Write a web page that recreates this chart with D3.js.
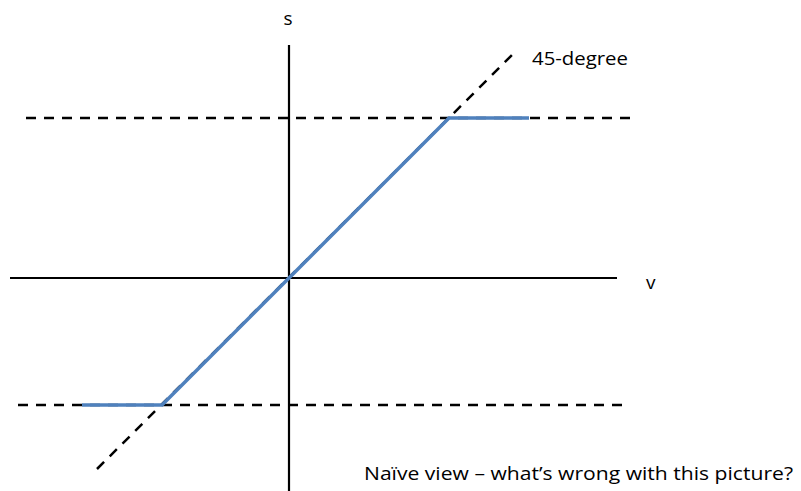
<!DOCTYPE html>
<html>
<head>
<meta charset="utf-8">
<script src="https://cdn.jsdelivr.net/npm/d3@7"></script>
<style>
  html, body { margin: 0; padding: 0; background: #fff; }
  svg { display: block; }
  text { font-family: "Open Sans", Lato, sans-serif; fill: #000; }
</style>
</head>
<body>
<svg id="chart" width="801" height="491"></svg>
<script>
// ---- data (units: origin at axis crossing) ----
const sAxis = [[0, 233], [0, -215]];            // vertical axis (s)
const vAxis = [[-279, 0], [328, 0]];            // horizontal axis (v)
const upperBound = [[-263, 160], [344, 160]];   // dashed upper limit
const lowerBound = [[-271, -127], [336, -127]]; // dashed lower limit
const diagonal = [[-192, -191], [224, 224]];    // 45-degree reference
const naiveView = [[-207, -127], [-127, -127], [160, 160], [240, 160]]; // blue line
const labels = [
  { text: "s", v: -1, s: 253, anchor: "middle", size: 19 },
  { text: "v", v: 357, s: -11, anchor: "start", size: 19 },
  { text: "45-degree", v: 243, s: 213, anchor: "start", size: 19, len: 96 },
  { text: "Naïve view – what’s wrong with this picture?", v: 75, s: -202, anchor: "start", size: 19, len: 429 }
];

const W = 801, H = 491;
const x = d3.scaleLinear().domain([-289, 512]).range([0, W]);
const y = d3.scaleLinear().domain([278, -213]).range([0, H]);
const line = d3.line().x(d => x(d[0])).y(d => y(d[1]));

const svg = d3.select("#chart");

// dashed reference lines
[upperBound, lowerBound, diagonal].forEach(d => {
  svg.append("path").attr("d", line(d))
    .attr("fill", "none").attr("stroke", "#000")
    .attr("stroke-width", 2.5).attr("stroke-dasharray", "10,8");
});

// axes
[sAxis, vAxis].forEach(d => {
  svg.append("path").attr("d", line(d))
    .attr("fill", "none").attr("stroke", "#000").attr("stroke-width", 2.2);
});

// blue series
svg.append("path").attr("d", line(naiveView))
  .attr("fill", "none").attr("stroke", "#4f81bd")
  .attr("stroke-width", 3.5).attr("stroke-linejoin", "miter");

// labels
labels.forEach(l => {
  const t = svg.append("text")
    .attr("x", x(l.v)).attr("y", y(l.s))
    .attr("text-anchor", l.anchor)
    .attr("font-size", l.size)
    .text(l.text);
  if (l.len) t.attr("textLength", l.len).attr("lengthAdjust", "spacingAndGlyphs");
});
</script>
</body>
</html>
